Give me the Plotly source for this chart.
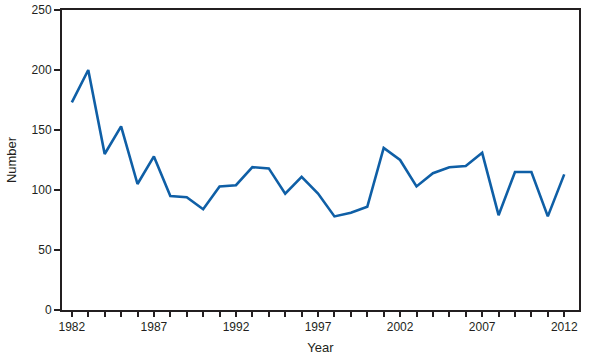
import plotly.graph_objects as go

years = list(range(1982, 2013))
values = [173, 200, 130, 153, 105, 128, 95, 94, 84, 103, 104, 119, 118, 97, 111, 97,
          78, 81, 86, 135, 125, 103, 114, 119, 120, 131, 79, 115, 115, 78, 113]
x_labels = [str(y) if (y - 1982) % 5 == 0 else "" for y in years]
y_ticks = [0, 50, 100, 150, 200, 250]

fig = go.Figure()
fig.add_trace(go.Scatter(x=years, y=values, mode="lines",
                         line=dict(color="#0f5fa6", width=2.6)))

font = "Liberation Sans Narrow, Liberation Sans, Arial, sans-serif"
fig.update_layout(
    width=603, height=358,
    margin=dict(l=62, r=24, t=10, b=48, autoexpand=False),
    paper_bgcolor="white", plot_bgcolor="white",
    showlegend=False,
    font=dict(family=font, size=12, color="#231f20"),
    xaxis=dict(range=[1981.4, 2012.9], tickvals=years, ticktext=x_labels,
               ticks="outside", ticklen=5, tickwidth=1.5, tickcolor="#231f20",
               showline=True, linecolor="#231f20", linewidth=2, mirror=True,
               showgrid=False, zeroline=False, automargin=False,
               title=dict(text="Year", standoff=9, font=dict(size=13))),
    yaxis=dict(range=[0, 250], tickvals=y_ticks,
               ticks="outside", ticklen=6, tickwidth=1.5, tickcolor="#231f20",
               showline=True, linecolor="#231f20", linewidth=2, mirror=True,
               showgrid=False, zeroline=False, automargin=False,
               title=dict(text="Number", standoff=12, font=dict(size=13))),
)
fig.write_html("out.html", config={"displayModeBar": False},
               post_script="document.body.style.margin='0';document.body.style.overflow='hidden';")
